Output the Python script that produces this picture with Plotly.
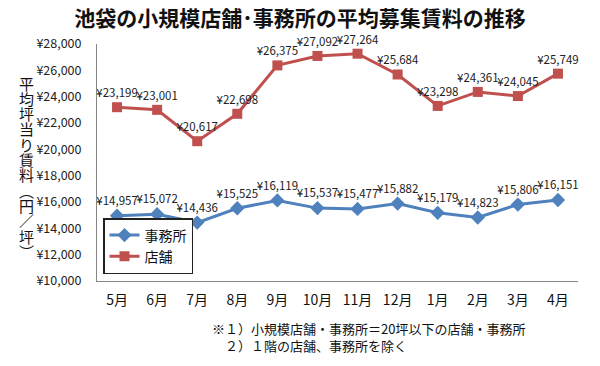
import plotly.graph_objects as go

months = ["5月", "6月", "7月", "8月", "9月", "10月", "11月", "12月", "1月", "2月", "3月", "4月"]
office = [14957, 15072, 14436, 15525, 16119, 15537, 15477, 15882, 15179, 14823, 15806, 16151]
shop = [23199, 23001, 20617, 22698, 26375, 27092, 27264, 25684, 23298, 24361, 24045, 25749]
ytick_vals = list(range(10000, 28001, 2000))
ytick_text = ["¥{:,}".format(v) for v in ytick_vals]
ytitle_chars = ["平", "均", "坪", "当", "り", "賃", "料", "︵", "円", "／", "坪", "︶"]

font = "Noto Sans CJK JP"
W, H = 600, 366
L, R, T, B = 97, 22, 44, 85
PH = H - T - B
PW = W - L - R

fig = go.Figure()
fig.add_trace(go.Scatter(
    x=months, y=office, name="事務所", mode="lines+markers+text",
    line=dict(color="#4F81BD", width=3),
    marker=dict(symbol="diamond", size=11, color="#4F81BD"),
    text=["¥{:,}".format(v) for v in office], textposition="top center",
    textfont=dict(size=11.5, color="#222222", family=font), cliponaxis=False,
))
fig.add_trace(go.Scatter(
    x=months, y=shop, name="店舗", mode="lines+markers+text",
    line=dict(color="#C0504D", width=3),
    marker=dict(symbol="square", size=10, color="#C0504D"),
    text=["¥{:,}".format(v) for v in shop], textposition="top center",
    textfont=dict(size=11.5, color="#222222", family=font), cliponaxis=False,
))

fig.update_layout(
    width=W, height=H,
    margin=dict(l=L, r=R, t=T, b=B, autoexpand=False),
    paper_bgcolor="white", plot_bgcolor="white",
    font=dict(family=font, color="#222222"),
    title=dict(text="<b>池袋の小規模店舗･事務所の平均募集賃料の推移</b>",
               x=0.5, xanchor="center", y=1 - 19 / H, yanchor="middle",
               font=dict(size=21, color="#111111", family=font)),
    showlegend=True,
    legend=dict(x=(103 - L) / PW, y=(281 - 274) / PH, xanchor="left", yanchor="bottom",
                bgcolor="white", bordercolor="#222222", borderwidth=1.5,
                font=dict(size=14, color="#111111", family=font),
                itemwidth=30, tracegroupgap=0),
    xaxis=dict(range=[-0.5, 11.5], showline=True, linecolor="#868686", linewidth=1,
               showgrid=False, ticks="", automargin=False,
               tickfont=dict(size=14, color="#111111", family=font),
               ticklabelstandoff=6),
    yaxis=dict(range=[10000, 28000], tickvals=ytick_vals, ticktext=ytick_text,
               showline=True, linecolor="#868686", linewidth=1, showgrid=False,
               ticks="", automargin=False,
               tickfont=dict(size=12.5, color="#222222", family=font),
               ticklabelstandoff=12, zeroline=False),
)

for i, ch in enumerate(ytitle_chars):
    py = 83 + i * 15.3
    fig.add_annotation(text=ch, xref="paper", yref="paper",
                       x=(26 - L) / PW, y=(H - B - py) / PH,
                       xanchor="center", yanchor="middle", showarrow=False,
                       font=dict(size=15, color="#111111", family=font))

fig.add_annotation(text="※１）小規模店舗・事務所＝20坪以下の店舗・事務所<br>　２）１階の店舗、事務所を除く",
                   xref="paper", yref="paper", x=(210 - L) / PW, y=(H - B - 317) / PH,
                   xanchor="left", yanchor="top",
                   align="left", showarrow=False,
                   font=dict(size=13, color="#111111", family=font))

fig.write_html("out.html", config={"displayModeBar": False},
               post_script="document.body.style.margin='0';document.body.style.overflow='hidden';")
